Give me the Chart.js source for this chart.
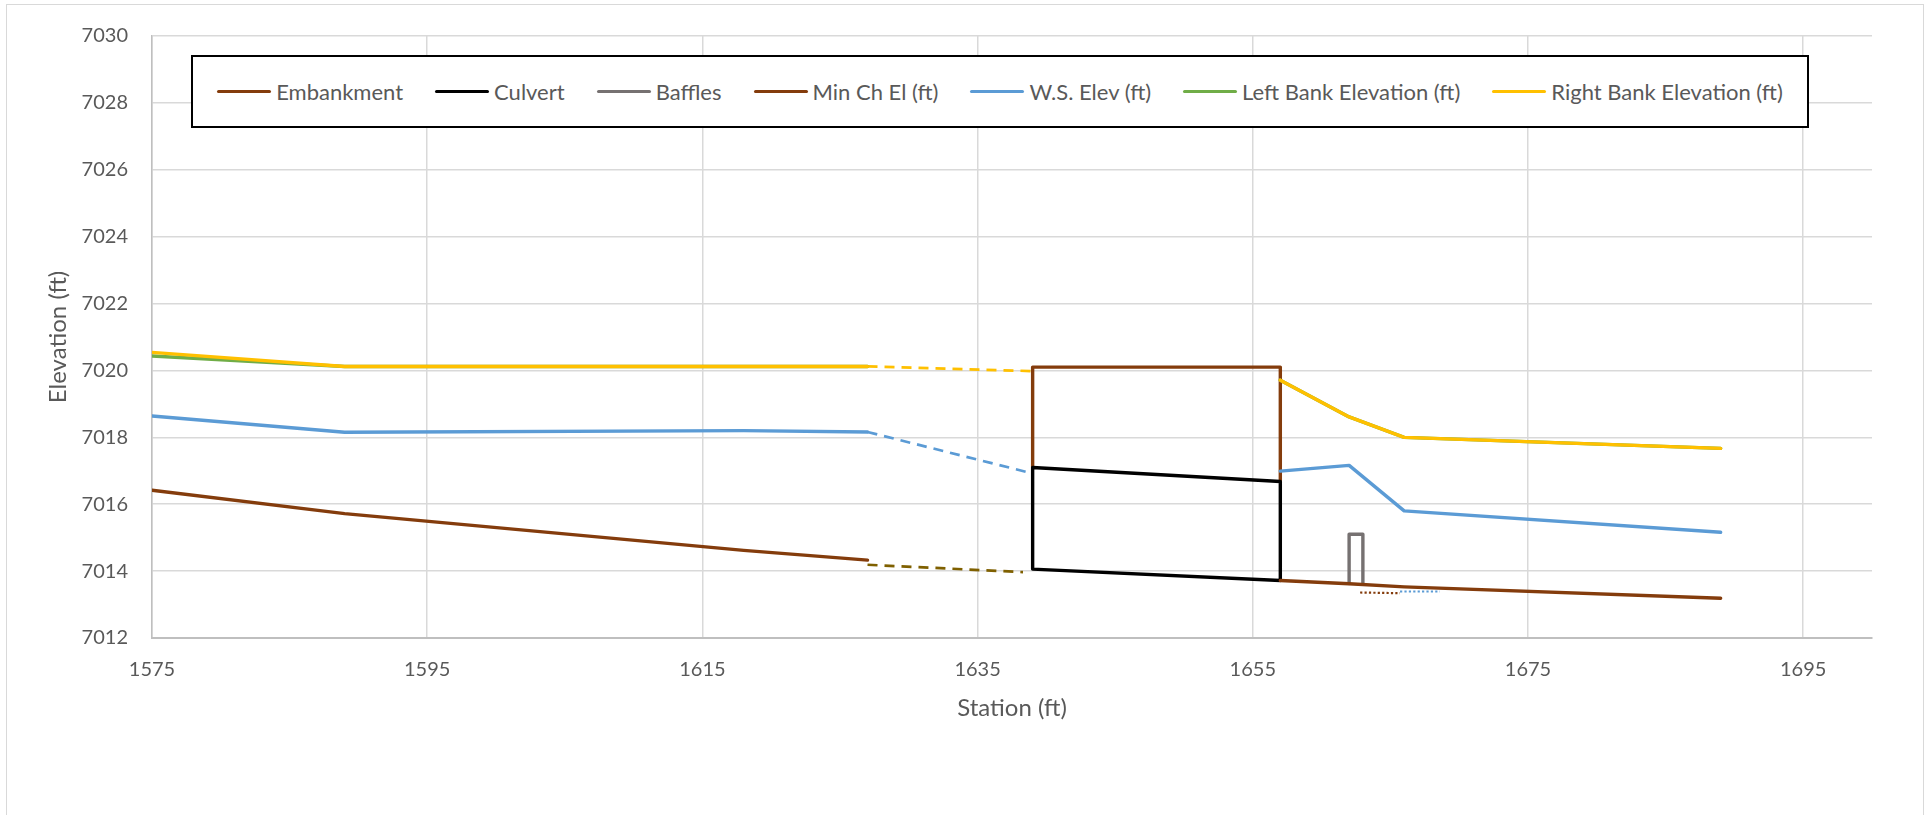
<!DOCTYPE html>
<html>
<head>
<meta charset="utf-8">
<script src="https://cdn.jsdelivr.net/npm/chart.js@4.4.0/dist/chart.umd.min.js"></script>
<style>
    html, body { margin: 0; padding: 0; background: #fff; overflow: hidden; }
    #wrap { position: relative; width: 1927px; height: 815px; }
    #frame { position: absolute; left: 6px; top: 4px; width: 1918px; height: 830px; border: 1.5px solid #d9d9d9; box-sizing: border-box; }
    #profileChart { position: absolute; left: 0; top: 0; }
    #legend {
        position: absolute; left: 191px; top: 55px; width: 1618px; height: 73px;
        border: 2px solid #000; background: #fff; box-sizing: border-box;
        display: flex; justify-content: center; align-items: center;
        font-family: Lato, "Open Sans", sans-serif; font-size: 22px; color: #595959;
    }
    #legend .item { display: flex; align-items: center; margin: 0 16px; white-space: nowrap; }
    #legend .swatch { width: 54px; height: 3.4px; margin-right: 5px; border-radius: 2px; }
</style>
</head>
<body>
<div id="wrap">
    <div id="frame"></div>
    <canvas id="profileChart" width="1927" height="815"></canvas>
    <div id="legend"></div>
</div>
<script>
// channel stations (ft); null breaks the line at the road crossing
const stations    = [1575, 1589, 1618, 1627, null, 1657, 1662, 1666, 1689];
const minChEl     = [7016.42, 7015.72, 7014.62, 7014.33, null, 7013.72, 7013.62, 7013.53, 7013.19];
const wsElev      = [7018.64, 7018.15, 7018.20, 7018.16, null, 7016.99, 7017.16, 7015.80, 7015.16];
const leftBankEl  = [7020.43, 7020.12, 7020.12, 7020.12, null, 7019.71, 7018.61, 7018.00, 7017.67];
const rightBankEl = [7020.54, 7020.12, 7020.12, 7020.12, null, 7019.71, 7018.61, 7018.00, 7017.67];

// embankment, culvert barrel and baffle outlines
const embankmentSta = [1639, 1639, 1657, 1657];
const embankmentEl  = [7017.10, 7020.10, 7020.10, 7016.70];
const culvertSta    = [1639, 1657, 1657, 1639, 1639];
const culvertEl     = [7017.10, 7016.68, 7013.72, 7014.06, 7017.10];
const baffleSta     = [1662, 1662, 1663, 1663];
const baffleEl      = [7013.63, 7015.10, 7015.10, 7013.62];

// dashed links across the crossing
const linkSta    = [1627, 1639];
const bankLinkEl = [7020.12, 7019.98];
const wsLinkEl   = [7018.16, 7016.92];
const bedLinkSta = [1627, 1638.3];
const bedLinkEl  = [7014.19, 7013.97];

// dotted short lines below the baffle
const bedDotSta = [1662.8, 1665.7];
const bedDotEl  = [7013.36, 7013.34];
const wsDotSta  = [1665.7, 1668.6];
const wsDotEl   = [7013.39, 7013.39];

const xTicks = [1575, 1595, 1615, 1635, 1655, 1675, 1695];

const seriesNames  = ['Embankment', 'Culvert', 'Baffles', 'Min Ch El (ft)', 'W.S. Elev (ft)', 'Left Bank Elevation (ft)', 'Right Bank Elevation (ft)'];
const seriesColors = ['#843C0C', '#000000', '#767171', '#843C0C', '#5B9BD5', '#70AD47', '#FFC000'];

const FONT = 'Lato, "Open Sans", sans-serif';
const TEXT = '#595959';

function pts(xs, ys) {
    return xs.map((x, i) => ({ x: x, y: ys[i] }));
}

function solid(label, xs, ys, color, order) {
    return {
        label: label, data: pts(xs, ys), borderColor: color, backgroundColor: color,
        borderWidth: 3.4, showLine: true, pointRadius: 0, fill: false, tension: 0,
        borderCapStyle: 'round', borderJoinStyle: 'round', order: order, spanGaps: false
    };
}

function broken(xs, ys, color, dash, width) {
    return {
        label: '', data: pts(xs, ys), borderColor: color, backgroundColor: color,
        borderWidth: width, borderDash: dash, showLine: true, pointRadius: 0,
        fill: false, tension: 0, order: 9, isLink: true
    };
}

const datasets = [
    solid(seriesNames[0], embankmentSta, embankmentEl, seriesColors[0], 7),
    solid(seriesNames[1], culvertSta, culvertEl, seriesColors[1], 6),
    solid(seriesNames[2], baffleSta, baffleEl, seriesColors[2], 5),
    solid(seriesNames[3], stations, minChEl, seriesColors[3], 4),
    solid(seriesNames[4], stations, wsElev, seriesColors[4], 3),
    solid(seriesNames[5], stations, leftBankEl, seriesColors[5], 2),
    solid(seriesNames[6], stations, rightBankEl, seriesColors[6], 1),
    broken(linkSta, bankLinkEl, '#FFC000', [10, 7], 2.7),
    broken(linkSta, wsLinkEl, '#5B9BD5', [10, 7], 2.7),
    broken(bedLinkSta, bedLinkEl, '#7F6000', [10, 7], 2.7),
    broken(bedDotSta, bedDotEl, '#843C0C', [2.2, 2.2], 2.2),
    broken(wsDotSta, wsDotEl, '#5B9BD5', [2.2, 2.2], 2.2)
];

// html legend built from the main series
const htmlLegend = {
    id: 'htmlLegend',
    afterUpdate(chart) {
        const box = document.getElementById('legend');
        box.innerHTML = '';
        chart.data.datasets.filter(d => !d.isLink).forEach(d => {
            const item = document.createElement('div');
            item.className = 'item';
            const sw = document.createElement('span');
            sw.className = 'swatch';
            sw.style.background = d.borderColor;
            const txt = document.createElement('span');
            txt.textContent = d.label;
            item.appendChild(sw);
            item.appendChild(txt);
            box.appendChild(item);
        });
    }
};

const ctx = document.getElementById('profileChart').getContext('2d');
new Chart(ctx, {
    type: 'scatter',
    data: { datasets: datasets },
    plugins: [htmlLegend],
    options: {
        responsive: false,
        animation: false,
        layout: { padding: { left: 0, right: 55, top: 34, bottom: 92.6 } },
        plugins: {
            legend: { display: false },
            tooltip: { enabled: false }
        },
        scales: {
            x: {
                type: 'linear',
                min: 1575,
                max: 1700,
                afterBuildTicks: scale => { scale.ticks = xTicks.map(v => ({ value: v })); },
                afterFit: scale => { scale.height = 84.4; },
                grid: { color: '#d9d9d9', lineWidth: 1.5, drawTicks: false },
                border: { color: '#bfbfbf', width: 2 },
                ticks: {
                    color: TEXT, padding: 20, maxRotation: 0, autoSkip: false,
                    font: { family: FONT, size: 20 },
                    callback: v => String(v)
                },
                title: {
                    display: true, text: 'Station (ft)', color: TEXT,
                    font: { family: FONT, size: 24 }, padding: { top: 0, bottom: 0 }
                }
            },
            y: {
                type: 'linear',
                min: 7012,
                max: 7030,
                afterFit: scale => { scale.width = 152; },
                grid: { color: '#d9d9d9', lineWidth: 1.5, drawTicks: false },
                border: { color: '#bfbfbf', width: 1.5 },
                ticks: {
                    stepSize: 2, color: TEXT, padding: 24,
                    font: { family: FONT, size: 20 },
                    callback: v => String(v)
                },
                title: {
                    display: true, text: 'Elevation (ft)', color: TEXT,
                    font: { family: FONT, size: 24 }, padding: { top: 43.6, bottom: 0 }
                }
            }
        }
    }
});
</script>
</body>
</html>
